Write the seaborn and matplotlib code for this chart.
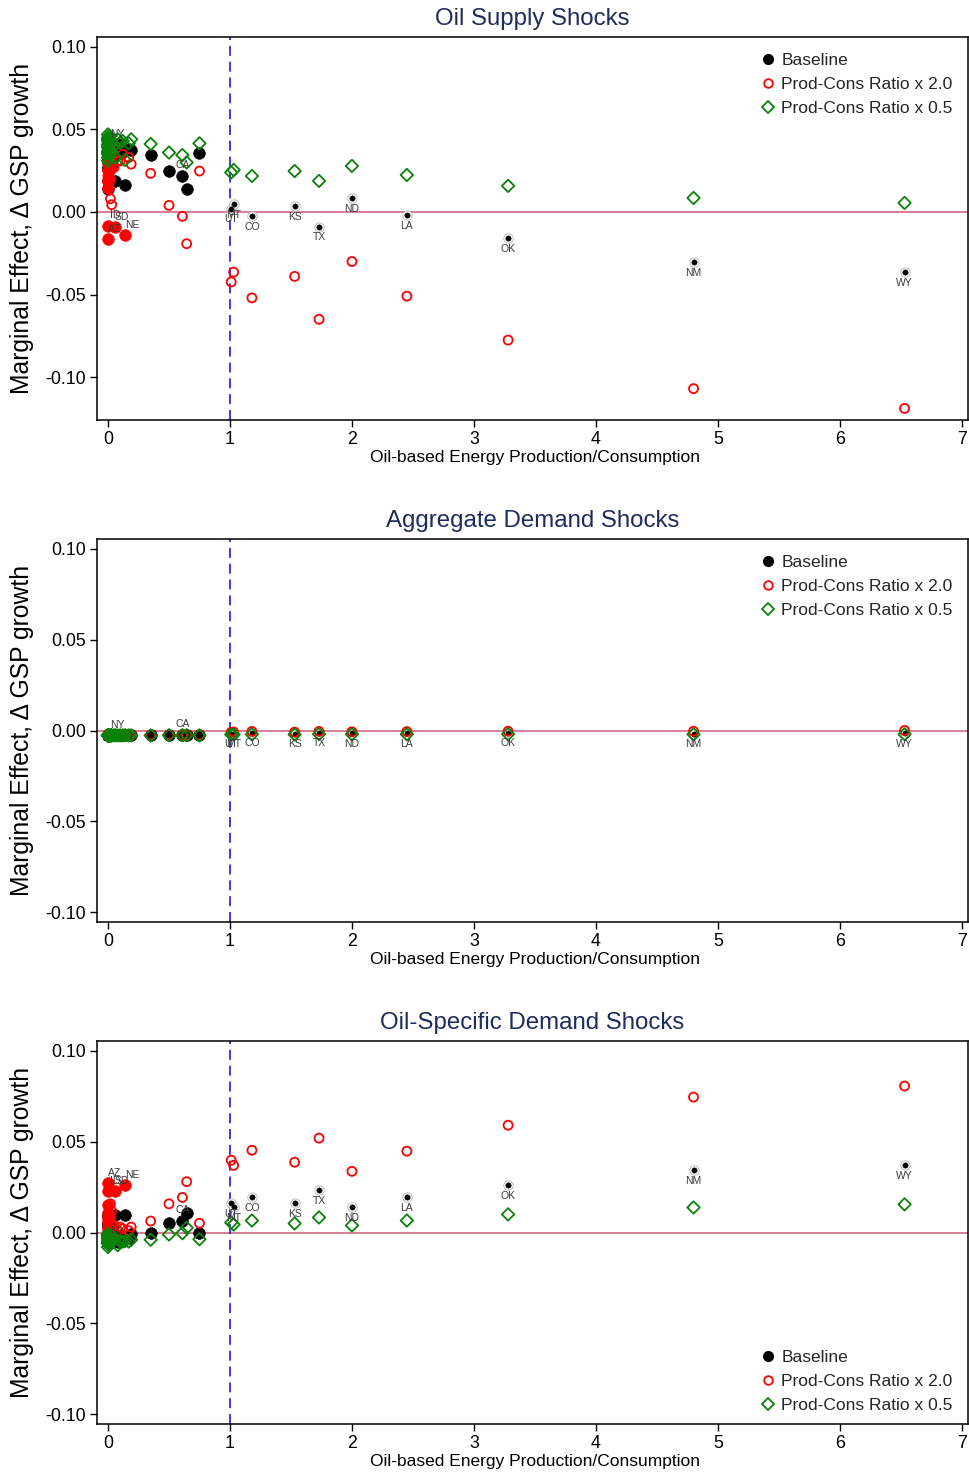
import matplotlib
matplotlib.use("Agg")
import matplotlib.pyplot as plt
import seaborn as sns
import pandas as pd
from matplotlib.lines import Line2D

# ---------------- data ----------------
titles = ["Oil Supply Shocks", "Aggregate Demand Shocks", "Oil-Specific Demand Shocks"]
legend_labels = ["Baseline", "Prod-Cons Ratio x 2.0", "Prod-Cons Ratio x 0.5"]
x_label = "Oil-based Energy Production/Consumption"
y_label = "Marginal Effect, \u0394 GSP growth"
xticks = [0, 1, 2, 3, 4, 5, 6, 7]
yticks = [-0.10, -0.05, 0.00, 0.05, 0.10]
ytick_labels = ["-0.10", "-0.05", "0.00", "0.05", "0.10"]
ylims = [(-0.126, 0.106), (-0.1055, 0.1055), (-0.1055, 0.1055)]

# producer states (ratio > 1)
prod_states = ["UT", "MT", "CO", "KS", "TX", "ND", "LA", "OK", "NM", "WY"]
prod_ratio = [1.01, 1.03, 1.18, 1.53, 1.73, 2.00, 2.45, 3.28, 4.80, 6.53]
p1_prod_base = [0.0020, 0.0048, -0.0024, 0.0036, -0.0090, 0.0085, -0.0018, -0.0158, -0.0303, -0.0364]
p1_prod_x2 = [-0.0424, -0.0364, -0.0520, -0.0390, -0.0650, -0.0300, -0.0510, -0.0776, -0.1070, -0.1190]
p1_prod_half = [0.0240, 0.0255, 0.0218, 0.0248, 0.0188, 0.0279, 0.0224, 0.0158, 0.0085, 0.0055]
p2_prod_base = [-0.0018, -0.0017, -0.0013, -0.0018, -0.0013, -0.0015, -0.0015, -0.0012, -0.0017, -0.0015]
p2_prod_x2 = [-0.0010, -0.0008, -0.0005, -0.0009, -0.0005, -0.0007, -0.0006, -0.0004, -0.0004, 0.0000]
p2_prod_half = [-0.0022, -0.0022, -0.0021, -0.0022, -0.0020, -0.0021, -0.0021, -0.0020, -0.0021, -0.0021]
p3_prod_base = [0.0160, 0.0138, 0.0193, 0.0160, 0.0232, 0.0138, 0.0193, 0.0260, 0.0343, 0.0370]
p3_prod_x2 = [0.0398, 0.0370, 0.0453, 0.0387, 0.0520, 0.0337, 0.0448, 0.0591, 0.0746, 0.0807]
p3_prod_half = [0.0055, 0.0044, 0.0066, 0.0050, 0.0083, 0.0039, 0.0066, 0.0100, 0.0138, 0.0155]

# consumer states (ratio < 1)
cons_states = ["NJ", "MA", "CT", "RI", "VT", "NH", "ME", "DE", "MD", "NY", "VA",
               "NC", "SC", "GA", "FL", "TN", "WI", "MN", "IA", "MO", "WA", "OR",
               "IN", "PA", "ID", "AZ", "SD", "NE", "AL", "MS", "CA", "AR", "MI"]
cons_ratio = [0.00, 0.01, 0.00, 0.00, 0.02, 0.00, 0.01, 0.03, 0.00, 0.08, 0.05,
              0.00, 0.00, 0.02, 0.02, 0.03, 0.02, 0.00, 0.00, 0.00, 0.10, 0.12,
              0.17, 0.19, 0.00, 0.00, 0.06, 0.14, 0.35, 0.50, 0.61, 0.645, 0.75]
p1_cons_base = [0.045, 0.043, 0.042, 0.040, 0.039, 0.038, 0.037, 0.036, 0.035, 0.041, 0.034,
                0.033, 0.032, 0.031, 0.030, 0.029, 0.028, 0.030, 0.027, 0.026, 0.036, 0.037,
                0.038, 0.0376, 0.019, 0.014, 0.0188, 0.0164, 0.0347, 0.025, 0.0218, 0.0139, 0.036]
p1_cons_x2 = [0.036, 0.034, 0.033, 0.031, 0.030, 0.029, 0.027, 0.026, 0.025, 0.031, 0.027,
              0.022, 0.020, 0.020, 0.025, 0.0044, 0.008, 0.0255, 0.019, 0.0145, 0.031, 0.035,
              0.033, 0.029, -0.0083, -0.0164, -0.0093, -0.0141, 0.0234, 0.004, -0.0026, -0.0192, 0.0248]
p1_cons_half = [0.047, 0.046, 0.045, 0.044, 0.044, 0.043, 0.042, 0.042, 0.041, 0.044, 0.040,
                0.040, 0.039, 0.038, 0.037, 0.036, 0.036, 0.037, 0.036, 0.035, 0.042, 0.043,
                0.0416, 0.044, 0.033, 0.031, 0.033, 0.0315, 0.0412, 0.036, 0.0345, 0.030, 0.0416]
p2_cons_base = [-0.0027, -0.0027, -0.0026, -0.0027, -0.0026, -0.0026, -0.0027, -0.0026, -0.0027, -0.0026, -0.0026,
                -0.0027, -0.0026, -0.0026, -0.0027, -0.0026, -0.0026, -0.0025, -0.0026, -0.0025, -0.0026, -0.0026,
                -0.0026, -0.0026, -0.0025, -0.0025, -0.0025, -0.0025, -0.0026, -0.0025, -0.0025, -0.0025, -0.0026]
p2_cons_x2 = [-0.0025, -0.0025, -0.0024, -0.0025, -0.0024, -0.0024, -0.0025, -0.0024, -0.0025, -0.0024, -0.0024,
              -0.0025, -0.0024, -0.0024, -0.0025, -0.0024, -0.0024, -0.0023, -0.0024, -0.0023, -0.0024, -0.0024,
              -0.0024, -0.0024, -0.0023, -0.0023, -0.0023, -0.0023, -0.0024, -0.0023, -0.0023, -0.0023, -0.0024]
p2_cons_half = [-0.0028, -0.0028, -0.0027, -0.0028, -0.0027, -0.0027, -0.0028, -0.0027, -0.0028, -0.0027, -0.0027,
                -0.0028, -0.0027, -0.0027, -0.0028, -0.0027, -0.0027, -0.0026, -0.0027, -0.0026, -0.0027, -0.0027,
                -0.0027, -0.0027, -0.0026, -0.0026, -0.0026, -0.0026, -0.0027, -0.0026, -0.0026, -0.0026, -0.0027]
p3_cons_base = [-0.006, -0.005, -0.004, -0.004, -0.003, -0.003, -0.002, -0.002, -0.001, -0.005, -0.001,
                0.000, 0.000, 0.001, 0.001, 0.002, 0.003, 0.003, 0.004, 0.005, -0.002, -0.002,
                -0.003, -0.001, 0.009, 0.010, 0.0094, 0.0098, 0.000, 0.005, 0.0065, 0.011, -0.0004]
p3_cons_x2 = [-0.001, 0.000, 0.001, 0.002, 0.002, 0.003, 0.004, 0.004, 0.005, 0.001, 0.004,
              0.006, 0.007, 0.008, 0.008, 0.012, 0.0158, 0.008, 0.011, 0.015, 0.003, 0.002,
              0.001, 0.003, 0.0228, 0.027, 0.0228, 0.026, 0.0063, 0.0158, 0.0193, 0.028, 0.0051]
p3_cons_half = [-0.008, -0.007, -0.006, -0.006, -0.005, -0.005, -0.005, -0.004, -0.004, -0.007, -0.004,
                -0.003, -0.003, -0.003, -0.002, -0.002, -0.002, -0.002, -0.001, -0.001, -0.005, -0.005,
                -0.005, -0.004, -0.002, -0.001, -0.003, -0.0048, -0.004, -0.0011, -0.0004, 0.0026, -0.0037]

filled_x2_states = ["MN", "IA", "MO", "ID", "AZ", "SD", "NE"]
filled_panels = [0, 2]
x2_label_states = ["ID", "SD", "AZ", "NE"]
base_label_states = ["NY", "CA"]

prod_base = [p1_prod_base, p2_prod_base, p3_prod_base]
prod_x2 = [p1_prod_x2, p2_prod_x2, p3_prod_x2]
prod_half = [p1_prod_half, p2_prod_half, p3_prod_half]
cons_base = [p1_cons_base, p2_cons_base, p3_cons_base]
cons_x2 = [p1_cons_x2, p2_cons_x2, p3_cons_x2]
cons_half = [p1_cons_half, p2_cons_half, p3_cons_half]

# ---------------- style ----------------
sns.set_theme(style="white")
plt.rcParams["font.family"] = ["Liberation Sans", "DejaVu Sans"]

RED = "#ff0000"
GREEN = "#0a820a"
TITLE_C = "#1f2b5c"
ZERO_C = "#d6738f"
VLINE_C = "#1a1ae6"

fig = plt.figure(figsize=(9.69, 14.72), dpi=100)
L, R = 97 / 969, 968 / 969
tops_px = [37, 539, 1041]
H_px = 383

for k in range(3):
    top = 1 - tops_px[k] / 1472
    bottom = 1 - (tops_px[k] + H_px) / 1472
    ax = fig.add_axes([L, bottom, R - L, top - bottom])

    ax.axhline(0, color=ZERO_C, lw=1.3, zorder=1)
    ax.axvline(1, color=VLINE_C, lw=1.2, ls=(0, (6, 3.5)), zorder=1)

    cons = pd.DataFrame({"state": cons_states, "ratio": cons_ratio,
                         "base": cons_base[k], "x2": cons_x2[k], "half": cons_half[k]})
    prod = pd.DataFrame({"state": prod_states, "ratio": prod_ratio,
                         "base": prod_base[k], "x2": prod_x2[k], "half": prod_half[k]})
    if k in filled_panels:
        is_f = cons["state"].isin(filled_x2_states)
    else:
        is_f = cons["state"].isin([])
    cons_h = cons[~is_f]
    cons_f = cons[is_f]

    # baseline
    sns.scatterplot(data=cons, x="ratio", y="base", ax=ax, marker="o", s=70,
                    color="black", edgecolor="black", linewidth=0.5, zorder=3)
    sns.scatterplot(data=prod, x="ratio", y="base", ax=ax, marker="o", s=46,
                    color="#b4b4b4", facecolor="white", edgecolor="#b4b4b4", linewidth=0.6, zorder=3)
    sns.scatterplot(data=prod, x="ratio", y="base", ax=ax, marker="o", s=15,
                    color="black", edgecolor="black", linewidth=0.3, zorder=3.1)
    # ratio x 2.0
    x2_all = pd.concat([cons_h, prod])
    sns.scatterplot(data=x2_all, x="ratio", y="x2", ax=ax, marker="o", s=42,
                    color=RED, facecolor="none", edgecolor=RED, linewidth=1.3, zorder=4)
    if len(cons_f):
        sns.scatterplot(data=cons_f, x="ratio", y="x2", ax=ax, marker="o", s=70,
                        color=RED, edgecolor=RED, linewidth=0.5, zorder=4)
    # ratio x 0.5
    half_all = pd.concat([cons, prod])
    sns.scatterplot(data=half_all, x="ratio", y="half", ax=ax, marker="D", s=40,
                    color=GREEN, facecolor="none", edgecolor=GREEN, linewidth=1.3, zorder=5)

    # labels
    for st, xr, yb in zip(prod["state"], prod["ratio"], prod["base"]):
        ax.annotate(st, (xr, yb), xytext=(0, -4), textcoords="offset points",
                    ha="center", va="top", fontsize=7.5, color="#3a3a3a", zorder=6)
    for st, xr, yb, yx in zip(cons["state"], cons["ratio"], cons["base"], cons["x2"]):
        if st in base_label_states:
            ax.annotate(st, (xr, yb), xytext=(0, 4), textcoords="offset points",
                        ha="center", va="bottom", fontsize=7.5, color="#3a3a3a", zorder=6)
        if k in filled_panels and st in x2_label_states:
            ax.annotate(st, (xr, yx), xytext=(5, 4), textcoords="offset points",
                        ha="center", va="bottom", fontsize=7.5, color="#3a3a3a", zorder=6)

    ax.set_xlim(-0.09, 7.05)
    ax.set_ylim(*ylims[k])
    ax.set_xticks(xticks)
    ax.set_xticklabels([str(t) for t in xticks])
    ax.set_yticks(yticks)
    ax.set_yticklabels(ytick_labels)
    ax.tick_params(axis="both", which="major", direction="out", length=5, width=1,
                   color="black", labelsize=12.8, labelcolor="black", pad=3,
                   bottom=True, left=True)
    for sp in ax.spines.values():
        sp.set_color("black")
        sp.set_linewidth(1.1)

    ax.set_title(titles[k], fontsize=17.3, color=TITLE_C, pad=8.5)
    ax.set_xlabel(x_label, fontsize=12.5, color="black")
    ax.xaxis.set_label_coords(0.503, -0.078)
    ax.set_ylabel(y_label, fontsize=17.8, color="black")
    ax.yaxis.set_label_coords(-0.072, 0.5)

    handles = [
        Line2D([], [], ls="none", marker="o", ms=7, mfc="black", mec="black"),
        Line2D([], [], ls="none", marker="o", ms=6.2, mfc="none", mec=RED, mew=1.3),
        Line2D([], [], ls="none", marker="D", ms=6.2, mfc="none", mec=GREEN, mew=1.3),
    ]
    if k < 2:
        ax.legend(handles, legend_labels, loc="upper left", bbox_to_anchor=(0.746, 0.985),
                  frameon=False, fontsize=12.5, handletextpad=0.2, labelspacing=0.5,
                  handlelength=1.2, borderaxespad=0.2)
    else:
        ax.legend(handles, legend_labels, loc="lower left", bbox_to_anchor=(0.746, 0.002),
                  frameon=False, fontsize=12.5, handletextpad=0.2, labelspacing=0.5,
                  handlelength=1.2, borderaxespad=0.2)

fig.savefig("out.png", dpi=100)
